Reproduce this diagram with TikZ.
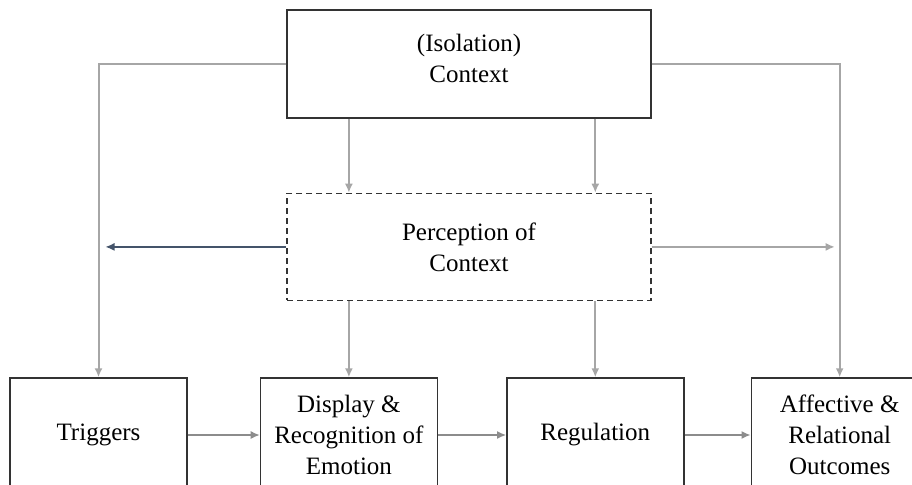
\documentclass[tikz,border=0pt]{standalone}
\usepackage{fontspec}
\setmainfont{Liberation Serif}
\usepackage{tikz}
\usetikzlibrary{shapes,arrows.meta}
\usetikzlibrary{positioning}
\usetikzlibrary{calc}
\definecolor{boxline}{HTML}{333333}
\definecolor{linegray}{HTML}{A6A6A6}
\definecolor{arrowgray}{HTML}{8C8C8C}
\definecolor{slateblue}{HTML}{44546A}
\tikzset{auto,>={Latex[length=4.5pt,width=4pt]}, node distance=1cm, font=\fontsize{12.5}{15.5}\selectfont}
\tikzstyle{block} = [draw=boxline, line width=0.7pt, fill=white, rectangle, minimum height=57pt, minimum width=88.5pt, text centered, align=center, inner sep=2pt]
\tikzstyle{wide} = [block, minimum width=182pt, minimum height=54pt]
\tikzstyle{percept} = [wide, dash pattern=on 3pt off 2pt, minimum height=53.5pt]
\tikzstyle{feed} = [draw=linegray, line width=1pt, ->]
\tikzstyle{flow} = [draw=arrowgray, line width=0.7pt, ->]

\begin{document}
\begin{tikzpicture}[x=0.5pt, y=-0.5pt]
    \clip (0,0) rectangle (912,484);
    \node [wide] (ctx) at (469,64) {(Isolation)\\Context\\[-9.5pt]};
    \node [percept, below=37pt of ctx] (perc) {Perception of\\Context};
    \node [block] (trig) at (98.5,435) {Triggers};
    \node [block, right=36pt of trig] (disp) {Display \&\\Recognition of\\Emotion};
    \node [block, right=34pt of disp] (reg) {Regulation};
    \node [block, right=33pt of reg] (aff) {Affective \&\\Relational\\Outcomes};
    \coordinate (lft) at ($(trig.north |- perc.west)+(7,0)$);
    \coordinate (rgt) at ($(aff.north |- perc.east)+(-5,0)$);

    % context feeds everything below it
    \draw [feed] (ctx.west) -| (trig.north);
    \draw [feed] (ctx.east) -| (aff.north);
    \draw [feed] (disp |- ctx.south) -- (disp |- perc.north);
    \draw [feed] (reg |- ctx.south) -- (reg |- perc.north);
    \draw [feed] (perc.south -| disp) -- (disp.north);
    \draw [feed] (perc.south -| reg) -- (reg.north);
    \draw [->, draw=slateblue, line width=0.7pt] (perc.west) -- (lft);
    \draw [feed, line width=0.8pt] (perc.east) -- (rgt);

    % emotion process
    \draw [flow] (trig) -- (disp);
    \draw [flow] (disp) -- (reg);
    \draw [flow] (reg) -- (aff);
\end{tikzpicture}
\end{document}
